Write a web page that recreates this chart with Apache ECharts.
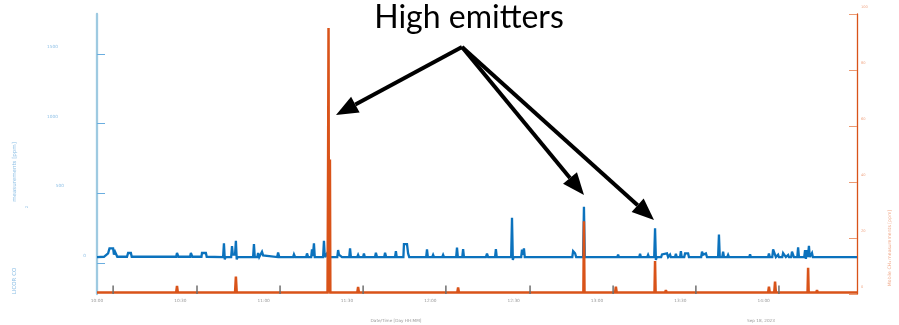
<!DOCTYPE html>
<html><head><meta charset="utf-8">
<script src="https://cdn.jsdelivr.net/npm/echarts@6/dist/echarts.min.js"></script>
<style>html,body{margin:0;padding:0;background:#fff}#c{width:899px;height:325px}</style>
</head><body><div id="c"></div>
<script>
// minutes after 10:00 on Sep 18, 2023 -> value
const co2Points = [
[0,43],[2.5,45],[3.2,55],[4.0,70],[4.5,105],[5.8,105],[6.1,60],[6.5,81],[7.0,81],[7.3,45],
[10.8,45],[11.2,72],[12.2,72],[12.5,45],
[15.2,45],[15.5,52],[16,45],[18.8,45],[19.1,55],[19.5,45],[22.4,45],[22.7,52],[23,45],
[28.5,45],[28.8,72],[29.3,45],
[33.5,45],[33.8,72],[34.3,45],
[37.6,45],[37.8,72],[39.2,72],[39.5,45],
[45.4,43],[45.7,141],[46.0,26],[46.3,43],
[48.3,43],[48.6,122],[48.9,60],[49.7,60],[50.0,160],[50.3,26],[50.6,43],
[56.2,43],[56.5,136],[56.8,43],
[57.7,43],[58.0,72],[58.4,43],[59.1,43],[59.4,81],[59.8,55],[60.5,43],
[64.9,43],[65.2,76],[65.6,43],
[70.6,43],[70.9,62],[71.3,43],
[75.3,43],[75.6,69],[76.0,43],
[77.1,43],[77.4,98],[77.7,50],[78.1,141],[78.4,43],
[80.0,43],[80.3,55],[80.6,43],
[81.4,43],[81.7,160],[82.0,43],[82.5,43],[82.8,69],[83.1,43],
[86.5,43],[86.8,93],[87.1,60],[87.8,69],[88.2,43],
[90.8,43],[91.1,105],[91.4,43],
[93.7,43],[94.0,58],[94.3,43],[95.8,43],[96.1,69],[96.4,43],
[100.1,43],[100.4,74],[100.8,43],
[103.4,43],[103.7,74],[104.1,43],
[107.3,43],[107.6,86],[107.9,43],
[110.3,43],[110.5,136],[111.6,136],[112.0,69],[112.4,43],
[113.5,43],[113.8,55],[114.1,43],
[118.5,43],[118.8,98],[119.1,43],
[120.7,43],[121.0,58],[121.3,43],[124.3,43],[124.6,58],[124.9,43],
[129.3,43],[129.6,110],[129.9,43],
[131.5,43],[131.8,100],[132.1,43],
[134.0,43],[134.3,55],[134.6,43],
[140.0,43],[140.4,67],[140.8,43],
[143.3,43],[143.6,100],[143.9,43],
[149.1,43],[149.4,325],[149.7,22],[150.0,43],
[152.7,43],[153.0,96],[153.3,60],[153.7,105],[154.0,43],
[159.9,43],[160.2,55],[160.5,43],[165.7,43],[166.0,55],[166.3,43],
[171.1,43],[171.4,86],[172.1,70],[172.5,43],
[175.0,43],[175.3,404],[175.6,43],
[180.8,43],[181.1,55],[181.4,43],[184.4,43],[184.7,55],[185,43],[187.3,43],[187.6,60],[187.9,43],
[189.8,43],[190.1,55],[190.4,43],[195.2,43],[195.5,67],[195.8,43],[198.1,43],[198.4,58],[198.7,43],
[200.6,43],[200.9,249],[201.2,22],[201.5,43],
[203.1,43],[203.4,62],[204.1,69],[205.2,69],[205.6,43],
[206.0,43],[206.3,60],[206.6,43],
[208.1,43],[208.4,67],[208.7,43],
[209.9,43],[210.2,86],[210.5,43],
[211.4,43],[211.7,69],[212.8,69],[213.1,43],
[215.7,43],[216.0,55],[216.3,43],
[217.5,43],[217.8,81],[218.2,60],[219.2,69],[219.6,43],
[223.6,43],[223.9,205],[224.2,43],
[225.1,43],[225.4,81],[225.7,43],
[226.9,43],[227.2,58],[227.5,43],
[234.8,43],[235.1,62],[235.4,43],[237.3,43],[237.6,52],[237.9,43],
[241.6,43],[241.9,69],[242.2,43],
[243.1,43],[243.4,98],[244.1,93],[244.4,43],
[244.9,43],[245.2,60],[245.5,43],
[246.7,43],[247.0,72],[247.7,67],[248.0,43],
[248.5,43],[248.8,58],[249.1,43],
[249.9,43],[250.2,81],[250.6,81],[250.9,43],
[252.1,43],[252.4,112],[252.7,43],
[254.6,43],[254.9,93],[255.2,30],[255.6,93],[255.9,43],[256.3,124],[256.6,43],
[257.1,43],[257.4,72],[257.7,43],
[258.9,43],[259.2,52],[259.5,43],[261.8,43],[262.1,52],[262.4,43],[264.3,43],[264.6,52],[264.9,43],
[273.6,43]
];
const ch4Points = [
[0,0.5],[28.5,0.5],[28.8,2.9],[29.1,0.5],
[49.7,0.5],[50.0,6.2],[50.3,0.5],
[83.0,0.5],[83.2,48],[83.35,95],[83.5,0.5],[83.6,46],[83.75,0.5],[83.85,48],[84.0,0.5],
[93.7,0.5],[94.0,2.5],[94.3,0.5],
[129.7,0.5],[130.0,2.3],[130.3,0.5],
[171.4,0.5],[171.7,1.2],[172.0,0.5],
[175.1,0.5],[175.3,26],[175.5,0.5],
[186.5,0.5],[186.8,2.6],[187.1,0.5],
[200.7,0.5],[200.9,11.8],[201.1,0.5],
[204.5,0.5],[204.8,1.4],[205.1,0.5],
[218.2,0.5],[218.5,1.2],[218.8,0.5],
[221.5,0.5],[221.8,1.2],[222.1,0.5],
[241.6,0.5],[241.9,2.6],[242.2,0.5],
[243.8,0.5],[244.1,4.4],[244.4,0.5],
[255.8,0.5],[256.0,9.4],[256.2,0.5],
[258.9,0.5],[259.2,1.4],[259.5,0.5],
[273.6,0.5]
];
const refMinutes = [5.8, 36.0, 65.9, 95.8, 125.6, 155.9, 185.8, 215.6, 245.5];
const refValues  = [3, 3, 3, 3, 3, 3, 3, 3, 3];
const startHour = 10;      // 10:00, Sep 18, 2023
const endMinute = 273.6;
const xStep = 30;          // minutes between time labels
const lastLabelMinute = 240;
const leftTicks = [0, 500, 1000, 1500];
const rightTicks = [0, 20, 40, 60, 80, 100];

const pad = n => (n < 10 ? '0' : '') + n;
const fmt = m => { const t = Math.round(startHour * 60 + m); return pad(Math.floor(t / 60)) + ':' + pad(t % 60); };

const chart = echarts.init(document.getElementById('c'), null, {renderer: 'canvas'});

function arrow(x0, y0, x1, y1) {
  const a = Math.atan2(y1 - y0, x1 - x0), L = 22, W = 9;
  const bx = x1 - L * Math.cos(a), by = y1 - L * Math.sin(a);
  const nx = -Math.sin(a), ny = Math.cos(a);
  return [
    {type: 'line', shape: {x1: x0, y1: y0, x2: bx, y2: by}, style: {stroke: '#000', lineWidth: 4}, z: 100},
    {type: 'polygon', shape: {points: [[x1, y1], [bx + nx * W, by + ny * W], [bx - nx * W, by - ny * W]]}, style: {fill: '#000'}, z: 100}
  ];
}

const leftPad = {0: 0, 500: 22, 1000: 28, 1500: 28};
const rich = {};
leftTicks.forEach(v => { rich['p' + v] = {padding: [0, leftPad[v], 5, 0], fontSize: 4.3, color: '#8fc0e6', fontFamily: 'DejaVu Sans'}; });

chart.setOption({
  animation: false,
  backgroundColor: '#fff',
  grid: {left: 97, right: 42, top: 14, bottom: 31},
  xAxis: {
    type: 'value', min: 0, max: endMinute, interval: xStep,
    axisLine: {show: false}, axisTick: {show: false}, splitLine: {show: false},
    axisLabel: {formatter: v => (v <= lastLabelMinute ? fmt(v) : ''), fontSize: 4.3, color: '#999', margin: 5, fontFamily: 'DejaVu Sans', showMaxLabel: false, hideOverlap: false}
  },
  yAxis: [
    {
      type: 'value', position: 'left', min: -222, max: 1786,
      splitLine: {show: false},
      axisLine: {show: true, lineStyle: {color: '#9ecae1', width: 2.3}},
      axisTick: {show: true, inside: true, length: 8, customValues: leftTicks, lineStyle: {color: '#6aaee0', width: 1}},
      axisLabel: {customValues: leftTicks, margin: 11, verticalAlign: 'bottom', formatter: v => '{p' + v + '|' + v + '}', rich: rich}
    },
    {
      type: 'value', position: 'right', min: 0, max: 100, interval: 20,
      splitLine: {show: false},
      axisLine: {show: true, lineStyle: {color: '#d95319', width: 1.3}},
      axisTick: {show: true, inside: true, length: 8, lineStyle: {color: '#ec9a72', width: 1}},
      axisLabel: {margin: 4, fontSize: 3.6, color: '#f0a888', verticalAlign: 'bottom', padding: [0, 0, 5, 0], fontFamily: 'DejaVu Sans'}
    }
  ],
  series: [
    {name: 'CO2', type: 'line', yAxisIndex: 0, showSymbol: false, z: 2,
     lineStyle: {color: '#0b72bd', width: 2.3, join: 'miter', cap: 'butt', miterLimit: 3}, itemStyle: {color: '#0b72bd'},
     data: co2Points},
    {name: 'CH4', type: 'line', yAxisIndex: 1, showSymbol: false, z: 3,
     lineStyle: {color: '#d95319', width: 2.5, join: 'miter', cap: 'butt', miterLimit: 3}, itemStyle: {color: '#d95319'},
     data: ch4Points},
    {name: 'ref', type: 'bar', yAxisIndex: 1, barWidth: 1.5, z: 4,
     itemStyle: {color: '#6e6e6e'},
     data: refMinutes.map((m, i) => [m, refValues[i]])}
  ],
  graphic: [
    {type: 'text', x: 469, y: 18, z: 100, style: {text: 'High emitters', fontSize: 32, fontFamily: 'Lato', fill: '#000', align: 'center', verticalAlign: 'middle'}},
    ...arrow(462, 47, 336, 115),
    ...arrow(462, 47, 584, 195),
    ...arrow(462, 47, 654, 220),
    {type: 'text', x: 15, y: 281, rotation: Math.PI / 2, style: {text: 'LICOR CO', fontSize: 5.5, fill: '#8fc0e6', align: 'center', verticalAlign: 'middle', fontFamily: 'DejaVu Sans'}},
    {type: 'text', x: 27, y: 207, rotation: Math.PI / 2, style: {text: '2', fontSize: 4, fill: '#8fc0e6', align: 'center', verticalAlign: 'middle', fontFamily: 'DejaVu Sans'}},
    {type: 'text', x: 15, y: 172, rotation: Math.PI / 2, style: {text: 'measurements [ppm]', fontSize: 5.5, fill: '#8fc0e6', align: 'center', verticalAlign: 'middle', fontFamily: 'DejaVu Sans'}},
    {type: 'text', x: 890, y: 248, rotation: Math.PI / 2, style: {text: 'Mobile CH₄ measurements [ppm]', fontSize: 4.6, fill: '#f0a888', align: 'center', verticalAlign: 'middle', fontFamily: 'DejaVu Sans'}},
    {type: 'text', x: 396, y: 321, style: {text: 'Date/Time [Day HH:MM]', fontSize: 4.2, fill: '#999', align: 'center', verticalAlign: 'middle', fontFamily: 'DejaVu Sans'}},
    {type: 'text', x: 761, y: 321, style: {text: 'Sep 18, 2023', fontSize: 4.2, fill: '#999', align: 'center', verticalAlign: 'middle', fontFamily: 'DejaVu Sans'}}
  ]
});
</script></body></html>
